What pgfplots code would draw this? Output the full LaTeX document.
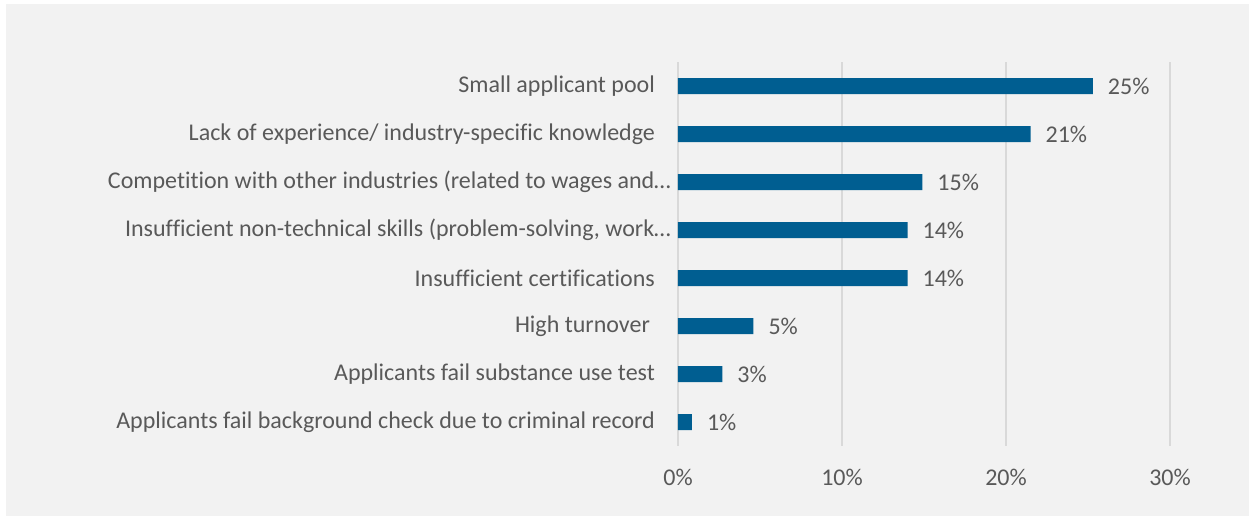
\documentclass[border=0pt]{standalone}
\usepackage{fontspec}
\setmainfont{Carlito}[Ligatures=NoCommon]
\usepackage{pgfplots}
\pgfplotsset{compat=1.18}
\definecolor{barblue}{RGB}{0,94,145}
\definecolor{bggray}{RGB}{242,242,242}
\definecolor{txtgray}{RGB}{89,89,89}
\definecolor{gridgray}{RGB}{217,217,217}
\begin{document}
\begin{tikzpicture}[font=\fontsize{12}{14}\selectfont]
\useasboundingbox (0,0) rectangle (624.5pt,258pt);
\fill[white] (0,0) rectangle (624.5pt,258pt);
\fill[bggray] (3pt,0) rectangle (624.5pt,256pt);
\begin{axis}[
  at={(339pt,35pt)}, anchor=south west,
  scale only axis,
  width=246pt, height=192pt,
  xbar, bar width=8pt,
  xmin=0, xmax=30,
  ymin=-0.5, ymax=7.5,
  y dir=reverse,
  axis line style={draw=none},
  xtick={0,10,20,30},
  xticklabel={\pgfmathprintnumber{\tick}\%},
  xticklabel style={text=txtgray, yshift=-8pt},
  /pgf/number format/assume math mode=true,
  ytick={0,...,7},
  yticklabels={{Small applicant pool},
    {Lack of experience/ industry-specific knowledge},
    {\makebox[\dimexpr\width-8pt][l]{Competition with other industries (related to wages and…}},
    {\makebox[\dimexpr\width-8pt][l]{Insufficient non-technical skills (problem-solving, work…}},
    {Insufficient certifications},
    {\makebox[\dimexpr\width+2.5pt][l]{High turnover}},
    {Applicants fail substance use test},
    {Applicants fail background check due to criminal record}},
  yticklabel style={text=txtgray, xshift=-8pt},
  major tick length=0pt,
  xmajorgrids=true,
  grid style={gridgray, line width=0.8pt},
  nodes near coords,
  point meta=explicit symbolic,
  every node near coord/.append style={text=txtgray, anchor=west, xshift=4pt},
]
\addplot[fill=barblue, draw=none] coordinates {
  (25.3,0) [25\%]
  (21.5,1) [21\%]
  (14.9,2) [15\%]
  (14.0,3) [14\%]
  (14.0,4) [14\%]
  (4.6,5) [5\%]
  (2.7,6) [3\%]
  (0.85,7) [1\%]
};
\end{axis}
\end{tikzpicture}
\end{document}
